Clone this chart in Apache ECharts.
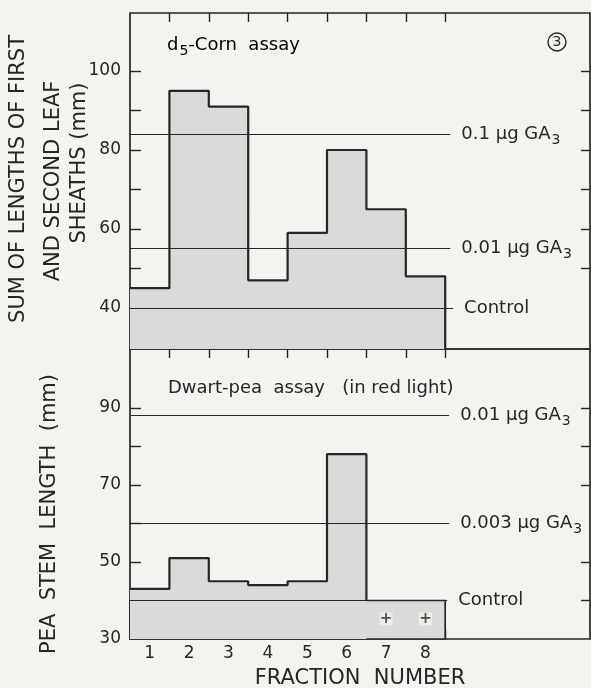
<!DOCTYPE html>
<html>
<head>
<meta charset="utf-8">
<script src="https://cdn.jsdelivr.net/npm/echarts@6/dist/echarts.min.js"></script>
<style>
html,body{margin:0;padding:0;background:#f3f3f0;}
#chart{width:591px;height:688px;}
</style>
</head>
<body>
<div id="chart"></div>
<script>
// ---- data ----
const fractions = [1, 2, 3, 4, 5, 6, 7, 8];
const cornLengths = [45, 95, 91, 47, 59, 80, 65, 48];           // d5-Corn assay, fractions 1-8
const cornRefValues = [84, 55, 40];
const cornRefLabels = ['0.1 µg GA|3', '0.01 µg GA|3', 'Control'];
const peaFractions = [1, 2, 3, 4, 5, 6];
const peaLengths = [43, 51, 45, 44, 45, 78];                     // dwarf-pea assay, fractions 1-6
const peaRefValues = [88, 60, 40];
const peaRefLabels = ['0.01 µg GA|3', '0.003 µg GA|3', 'Control'];
const peaMarkFractions = [7, 8];                                 // "+" marks
const cornTickLabels = [40, 60, 80, 100];
const peaTickLabels = [30, 50, 70, 90];

// ---- style ----
const FONT = 'DejaVu Sans';
const INK = '#262626';
const FILL = '#dadad8';
const BG = '#f3f3f0';

const boundaries = fractions.map(f => f + 0.5);
const xMin = 0.5, xMax = 12.175;
const lastFr = fractions[fractions.length - 1] + 0.5;

// stepped outline points built from values
function stepPoints(frs, vals, base) {
  const pts = frs.map((f, i) => [f - 0.5, vals[i]]);
  const end = frs[frs.length - 1] + 0.5;
  pts.push([end, vals[vals.length - 1]]);
  pts.push([end, base]);
  return pts;
}
const cornStep = stepPoints(fractions, cornLengths, 29.6);
const peaStep = stepPoints(peaFractions, peaLengths, 40);

function refLabel(txt) {
  const parts = txt.split('|');
  return parts.length > 1 ? '{n|' + parts[0] + '}{s|' + parts[1] + '}' : '{n|' + parts[0] + '}';
}
const rich = {
  n: { fontSize: 18, fontFamily: FONT, color: INK },
  s: { fontSize: 14, fontFamily: FONT, color: INK, padding: [12, 0, 0, 1] }
};
function refLines(vals, labels, ends) {
  return vals.map((v, i) => [
    { coord: [xMin, v] },
    { coord: [ends[i], v], label: { formatter: refLabel(labels[i]) } }
  ]);
}

const tickStyle = { color: INK, width: 1.4 };
const hidden = { show: false };
const TITLE_FONT = '21px "DejaVu Sans"';

const option = {
  backgroundColor: BG,
  animation: false,
  grid: [
    { left: 130, top: 13, width: 460, height: 336, show: true, borderColor: INK, borderWidth: 1.7, backgroundColor: 'transparent' },
    { left: 130, top: 349, width: 460, height: 290, show: true, borderColor: INK, borderWidth: 1.7, backgroundColor: 'transparent' }
  ],
  xAxis: [
    { gridIndex: 0, type: 'value', min: xMin, max: xMax, position: 'bottom',
      axisLine: hidden, axisTick: hidden, axisLabel: hidden, splitLine: hidden },
    { gridIndex: 0, type: 'value', min: xMin, max: xMax, position: 'top',
      axisLine: hidden, axisLabel: hidden, splitLine: hidden,
      axisTick: { show: true, inside: true, length: 9, customValues: boundaries, lineStyle: tickStyle } },
    { gridIndex: 1, type: 'value', min: xMin, max: xMax, position: 'bottom',
      axisLine: hidden, splitLine: hidden,
      axisTick: { show: true, inside: true, length: 10, customValues: boundaries, lineStyle: tickStyle },
      axisLabel: { show: true, customValues: fractions, margin: 6, fontSize: 17, fontFamily: FONT, color: INK } },
    { gridIndex: 1, type: 'value', min: xMin, max: xMax, position: 'top',
      axisLine: hidden, axisLabel: hidden, splitLine: hidden,
      axisTick: { show: true, inside: true, length: 9, customValues: boundaries, lineStyle: tickStyle } }
  ],
  yAxis: [
    { gridIndex: 0, type: 'value', min: 29.6, max: 114.7, position: 'left',
      axisLine: hidden, splitLine: hidden,
      axisTick: { show: true, inside: true, length: 11, customValues: [40, 50, 60, 70, 80, 90, 100], lineStyle: tickStyle },
      axisLabel: { show: true, customValues: cornTickLabels, margin: 9, fontSize: 17, fontFamily: FONT, color: INK } },
    { gridIndex: 0, type: 'value', min: 29.6, max: 114.7, position: 'right',
      axisLine: hidden, splitLine: hidden, axisLabel: hidden,
      axisTick: { show: true, inside: true, length: 9, customValues: [50, 60, 70, 80, 90, 100], lineStyle: tickStyle } },
    { gridIndex: 1, type: 'value', min: 30, max: 105.3, position: 'left',
      axisLine: hidden, splitLine: hidden,
      axisTick: { show: true, inside: true, length: 11, customValues: [40, 50, 60, 70, 80, 90], lineStyle: tickStyle },
      axisLabel: { show: true, customValues: peaTickLabels, margin: 9, fontSize: 17, fontFamily: FONT, color: INK } },
    { gridIndex: 1, type: 'value', min: 30, max: 105.3, position: 'right',
      axisLine: hidden, splitLine: hidden, axisLabel: hidden,
      axisTick: { show: true, inside: true, length: 9, customValues: [40, 50, 70, 80, 90], lineStyle: tickStyle } }
  ],
  series: [
    {
      name: 'corn', type: 'line', xAxisIndex: 0, yAxisIndex: 0, step: 'end',
      data: cornStep, symbol: 'none', silent: true,
      lineStyle: { color: INK, width: 2.2 },
      areaStyle: { color: FILL, opacity: 1, origin: 'start' },
      markLine: {
        silent: true, symbol: 'none', animation: false,
        lineStyle: { color: INK, width: 1.2, type: 'solid' },
        label: { show: true, position: 'end', distance: 11, rich: rich },
        data: refLines(cornRefValues, cornRefLabels, [8.63, 8.63, 8.7])
      }
    },
    {
      name: 'pea', type: 'line', xAxisIndex: 2, yAxisIndex: 2, step: 'end',
      data: peaStep, symbol: 'none', silent: true,
      lineStyle: { color: INK, width: 2.2 },
      areaStyle: { color: FILL, opacity: 1, origin: 'start' },
      markArea: {
        silent: true,
        itemStyle: { color: FILL, borderColor: INK, borderWidth: 1.7 },
        data: [[{ coord: [xMin, 30] }, { coord: [lastFr, 40] }]]
      },
      markLine: {
        silent: true, symbol: 'none', animation: false,
        lineStyle: { color: INK, width: 1.2, type: 'solid' },
        label: { show: true, position: 'end', distance: 11, rich: rich },
        data: refLines(peaRefValues, peaRefLabels, [8.6, 8.6, 8.55])
      }
    },
    {
      name: 'marks', type: 'scatter', xAxisIndex: 2, yAxisIndex: 2, silent: true,
      data: peaMarkFractions.map(f => [f, 35.2]),
      symbol: 'rect', symbolSize: 13,
      itemStyle: { color: '#f0f0ee' },
      label: { show: true, position: 'inside', formatter: '+', fontSize: 15, fontWeight: 'bold', fontFamily: FONT, color: INK },
      z: 5
    }
  ],
  graphic: [
    { type: 'text', x: 19, y: 179, rotation: Math.PI / 2,
      style: { text: 'SUM OF LENGTHS OF FIRST', font: TITLE_FONT, fill: INK, align: 'center', verticalAlign: 'middle' } },
    { type: 'text', x: 54, y: 181, rotation: Math.PI / 2,
      style: { text: 'AND SECOND LEAF', font: TITLE_FONT, fill: INK, align: 'center', verticalAlign: 'middle' } },
    { type: 'text', x: 80, y: 163, rotation: Math.PI / 2,
      style: { text: 'SHEATHS (mm)', font: TITLE_FONT, fill: INK, align: 'center', verticalAlign: 'middle' } },
    { type: 'text', x: 50, y: 514, rotation: Math.PI / 2,
      style: { text: 'PEA  STEM  LENGTH  (mm)', font: TITLE_FONT, fill: INK, align: 'center', verticalAlign: 'middle' } },
    { type: 'text', x: 360, y: 679,
      style: { text: 'FRACTION  NUMBER', font: TITLE_FONT, fill: INK, align: 'center', verticalAlign: 'middle' } },
    { type: 'text', x: 167, y: 45,
      style: { text: '{n|d}{s|5}{n|-Corn  assay}', rich: rich, align: 'left', verticalAlign: 'middle' } },
    { type: 'text', x: 168, y: 388,
      style: { text: 'Dwart-pea  assay   (in red light)', font: '18px "DejaVu Sans"', fill: INK, align: 'left', verticalAlign: 'middle' } },
    { type: 'circle', shape: { cx: 557, cy: 42, r: 9 }, style: { fill: 'none', stroke: INK, lineWidth: 1.4 } },
    { type: 'text', x: 557, y: 42,
      style: { text: '3', font: '14px "DejaVu Sans"', fill: INK, align: 'center', verticalAlign: 'middle' } }
  ]
};

const chart = echarts.init(document.getElementById('chart'), null, { renderer: 'canvas' });
chart.setOption(option);
</script>
</body>
</html>
